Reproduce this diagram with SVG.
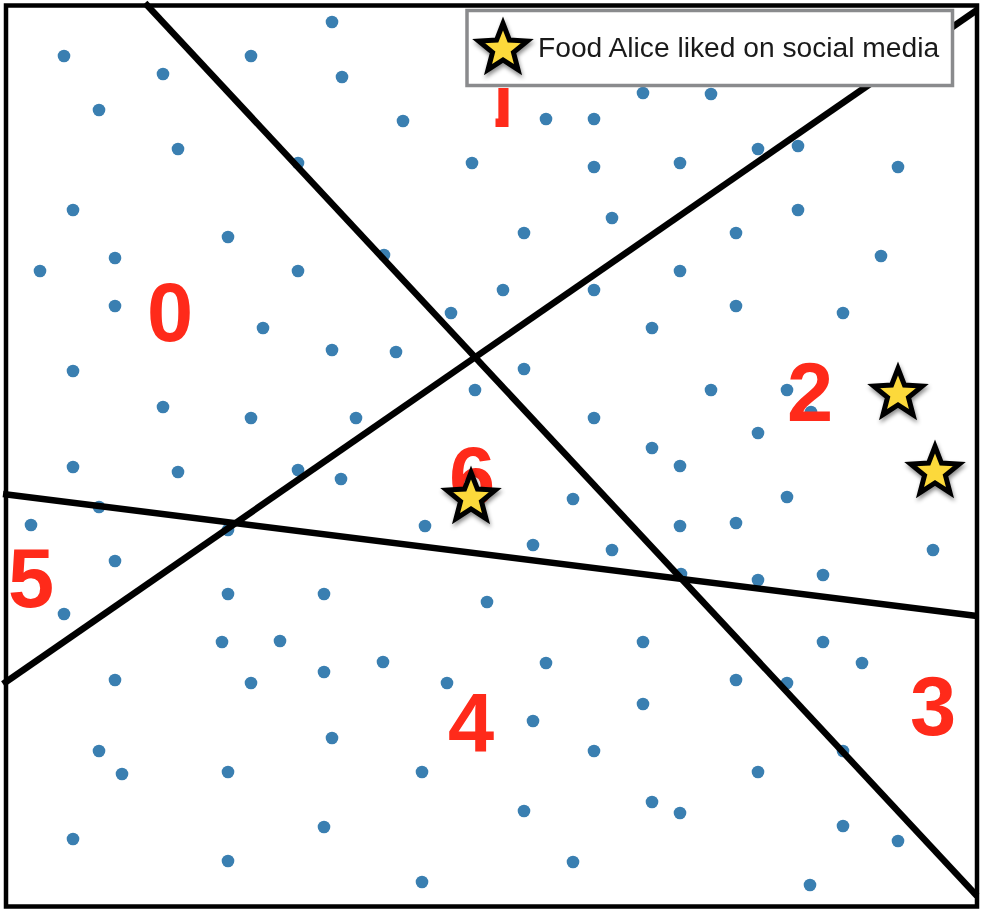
<svg xmlns="http://www.w3.org/2000/svg" xmlns:xlink="http://www.w3.org/1999/xlink" width="982" height="912" viewBox="0 0 982 912">
<style>
.dot{fill:#3a7fb1}
.cut{stroke:#000;stroke-width:6.5;fill:none;stroke-linecap:butt}
.lbl{font-family:"Liberation Sans",Arial,sans-serif;font-weight:bold;font-size:83px;fill:#ff2a1a;text-anchor:middle}
.star{fill:#fcd93a;stroke:#000;stroke-width:5;stroke-linejoin:miter;stroke-miterlimit:10}
</style>
<defs>
<filter id="sh" x="-50%" y="-50%" width="200%" height="200%">
<feDropShadow dx="1" dy="3" stdDeviation="2.2" flood-color="#000" flood-opacity="0.45"/>
</filter>
<polygon id="star" class="star" points="0,-25.5 6.465,-8.899 24.252,-7.88 10.462,3.399 14.989,20.63 0,11 -14.989,20.63 -10.462,3.399 -24.252,-7.88 -6.465,-8.899"/>
<clipPath id="below"><rect x="495.5" y="88" width="13" height="50"/></clipPath>
</defs>
<rect x="0" y="0" width="982" height="912" fill="#fff"/>
<g id="dots">
<circle class="dot" cx="332" cy="22" r="6.3"/>
<circle class="dot" cx="64" cy="56" r="6.3"/>
<circle class="dot" cx="251" cy="56" r="6.3"/>
<circle class="dot" cx="163" cy="74" r="6.3"/>
<circle class="dot" cx="342" cy="77" r="6.3"/>
<circle class="dot" cx="99" cy="110" r="6.3"/>
<circle class="dot" cx="403" cy="121" r="6.3"/>
<circle class="dot" cx="546" cy="119" r="6.3"/>
<circle class="dot" cx="594" cy="119" r="6.3"/>
<circle class="dot" cx="643" cy="93" r="6.3"/>
<circle class="dot" cx="711" cy="94" r="6.3"/>
<circle class="dot" cx="178" cy="149" r="6.3"/>
<circle class="dot" cx="298" cy="163" r="6.3"/>
<circle class="dot" cx="472" cy="163" r="6.3"/>
<circle class="dot" cx="594" cy="167" r="6.3"/>
<circle class="dot" cx="680" cy="163" r="6.3"/>
<circle class="dot" cx="758" cy="149" r="6.3"/>
<circle class="dot" cx="798" cy="146" r="6.3"/>
<circle class="dot" cx="898" cy="167" r="6.3"/>
<circle class="dot" cx="73" cy="210" r="6.3"/>
<circle class="dot" cx="612" cy="218" r="6.3"/>
<circle class="dot" cx="798" cy="210" r="6.3"/>
<circle class="dot" cx="228" cy="237" r="6.3"/>
<circle class="dot" cx="384" cy="255" r="6.3"/>
<circle class="dot" cx="524" cy="233" r="6.3"/>
<circle class="dot" cx="736" cy="233" r="6.3"/>
<circle class="dot" cx="40" cy="271" r="6.3"/>
<circle class="dot" cx="115" cy="258" r="6.3"/>
<circle class="dot" cx="298" cy="271" r="6.3"/>
<circle class="dot" cx="503" cy="290" r="6.3"/>
<circle class="dot" cx="594" cy="290" r="6.3"/>
<circle class="dot" cx="680" cy="271" r="6.3"/>
<circle class="dot" cx="881" cy="256" r="6.3"/>
<circle class="dot" cx="115" cy="306" r="6.3"/>
<circle class="dot" cx="451" cy="313" r="6.3"/>
<circle class="dot" cx="736" cy="306" r="6.3"/>
<circle class="dot" cx="843" cy="313" r="6.3"/>
<circle class="dot" cx="263" cy="328" r="6.3"/>
<circle class="dot" cx="332" cy="350" r="6.3"/>
<circle class="dot" cx="396" cy="352" r="6.3"/>
<circle class="dot" cx="652" cy="328" r="6.3"/>
<circle class="dot" cx="73" cy="371" r="6.3"/>
<circle class="dot" cx="524" cy="369" r="6.3"/>
<circle class="dot" cx="475" cy="390" r="6.3"/>
<circle class="dot" cx="711" cy="390" r="6.3"/>
<circle class="dot" cx="787" cy="390" r="6.3"/>
<circle class="dot" cx="811" cy="412" r="6.3"/>
<circle class="dot" cx="163" cy="407" r="6.3"/>
<circle class="dot" cx="251" cy="418" r="6.3"/>
<circle class="dot" cx="356" cy="418" r="6.3"/>
<circle class="dot" cx="594" cy="418" r="6.3"/>
<circle class="dot" cx="758" cy="433" r="6.3"/>
<circle class="dot" cx="652" cy="448" r="6.3"/>
<circle class="dot" cx="73" cy="467" r="6.3"/>
<circle class="dot" cx="178" cy="472" r="6.3"/>
<circle class="dot" cx="298" cy="470" r="6.3"/>
<circle class="dot" cx="341" cy="479" r="6.3"/>
<circle class="dot" cx="680" cy="466" r="6.3"/>
<circle class="dot" cx="99" cy="507" r="6.3"/>
<circle class="dot" cx="425" cy="526" r="6.3"/>
<circle class="dot" cx="573" cy="499" r="6.3"/>
<circle class="dot" cx="787" cy="497" r="6.3"/>
<circle class="dot" cx="31" cy="525" r="6.3"/>
<circle class="dot" cx="228" cy="530" r="6.3"/>
<circle class="dot" cx="680" cy="526" r="6.3"/>
<circle class="dot" cx="736" cy="523" r="6.3"/>
<circle class="dot" cx="533" cy="545" r="6.3"/>
<circle class="dot" cx="612" cy="550" r="6.3"/>
<circle class="dot" cx="933" cy="550" r="6.3"/>
<circle class="dot" cx="115" cy="561" r="6.3"/>
<circle class="dot" cx="681" cy="574" r="6.3"/>
<circle class="dot" cx="758" cy="580" r="6.3"/>
<circle class="dot" cx="823" cy="575" r="6.3"/>
<circle class="dot" cx="64" cy="614" r="6.3"/>
<circle class="dot" cx="228" cy="594" r="6.3"/>
<circle class="dot" cx="324" cy="594" r="6.3"/>
<circle class="dot" cx="487" cy="602" r="6.3"/>
<circle class="dot" cx="222" cy="642" r="6.3"/>
<circle class="dot" cx="280" cy="641" r="6.3"/>
<circle class="dot" cx="643" cy="642" r="6.3"/>
<circle class="dot" cx="823" cy="642" r="6.3"/>
<circle class="dot" cx="862" cy="663" r="6.3"/>
<circle class="dot" cx="115" cy="680" r="6.3"/>
<circle class="dot" cx="251" cy="683" r="6.3"/>
<circle class="dot" cx="324" cy="672" r="6.3"/>
<circle class="dot" cx="383" cy="662" r="6.3"/>
<circle class="dot" cx="447" cy="683" r="6.3"/>
<circle class="dot" cx="546" cy="663" r="6.3"/>
<circle class="dot" cx="736" cy="680" r="6.3"/>
<circle class="dot" cx="787" cy="683" r="6.3"/>
<circle class="dot" cx="332" cy="738" r="6.3"/>
<circle class="dot" cx="533" cy="721" r="6.3"/>
<circle class="dot" cx="643" cy="704" r="6.3"/>
<circle class="dot" cx="99" cy="751" r="6.3"/>
<circle class="dot" cx="122" cy="774" r="6.3"/>
<circle class="dot" cx="228" cy="772" r="6.3"/>
<circle class="dot" cx="422" cy="772" r="6.3"/>
<circle class="dot" cx="594" cy="751" r="6.3"/>
<circle class="dot" cx="758" cy="772" r="6.3"/>
<circle class="dot" cx="843" cy="751" r="6.3"/>
<circle class="dot" cx="524" cy="811" r="6.3"/>
<circle class="dot" cx="652" cy="802" r="6.3"/>
<circle class="dot" cx="680" cy="813" r="6.3"/>
<circle class="dot" cx="73" cy="839" r="6.3"/>
<circle class="dot" cx="324" cy="827" r="6.3"/>
<circle class="dot" cx="843" cy="826" r="6.3"/>
<circle class="dot" cx="898" cy="841" r="6.3"/>
<circle class="dot" cx="228" cy="861" r="6.3"/>
<circle class="dot" cx="573" cy="862" r="6.3"/>
<circle class="dot" cx="422" cy="882" r="6.3"/>
<circle class="dot" cx="810" cy="885" r="6.3"/>
</g>
<g id="cuts">
<line class="cut" x1="145" y1="3" x2="977" y2="896"/>
<line class="cut" x1="3" y1="684" x2="977" y2="10"/>
<line class="cut" x1="3" y1="494" x2="977" y2="616"/>
</g>
<g id="labels">
<text class="lbl" x="502" y="127" clip-path="url(#below)">1</text>
<text class="lbl" x="170" y="341">0</text>
<text class="lbl" x="810" y="421">2</text>
<text class="lbl" x="933" y="735">3</text>
<text class="lbl" x="471" y="752">4</text>
<text class="lbl" x="31" y="607">5</text>
<text class="lbl" x="472" y="505">6</text>
</g>
<g id="stars" filter="url(#sh)">
<use xlink:href="#star" x="898" y="394"/>
<use xlink:href="#star" x="935" y="472"/>
<use xlink:href="#star" x="471" y="498"/>
</g>
<g id="legend">
<rect x="467" y="10.5" width="485.5" height="75" fill="#fff" stroke="#8a8b8d" stroke-width="3.5"/>
<use xlink:href="#star" x="503" y="49" filter="url(#sh)"/>
<text x="538" y="57" font-family="'Liberation Sans',Arial,sans-serif" font-size="28.2" fill="#1a1a1a">Food Alice liked on social media</text>
</g>
<rect id="frame" x="6" y="5.5" width="971" height="901" fill="none" stroke="#000" stroke-width="4.5"/>
</svg>
